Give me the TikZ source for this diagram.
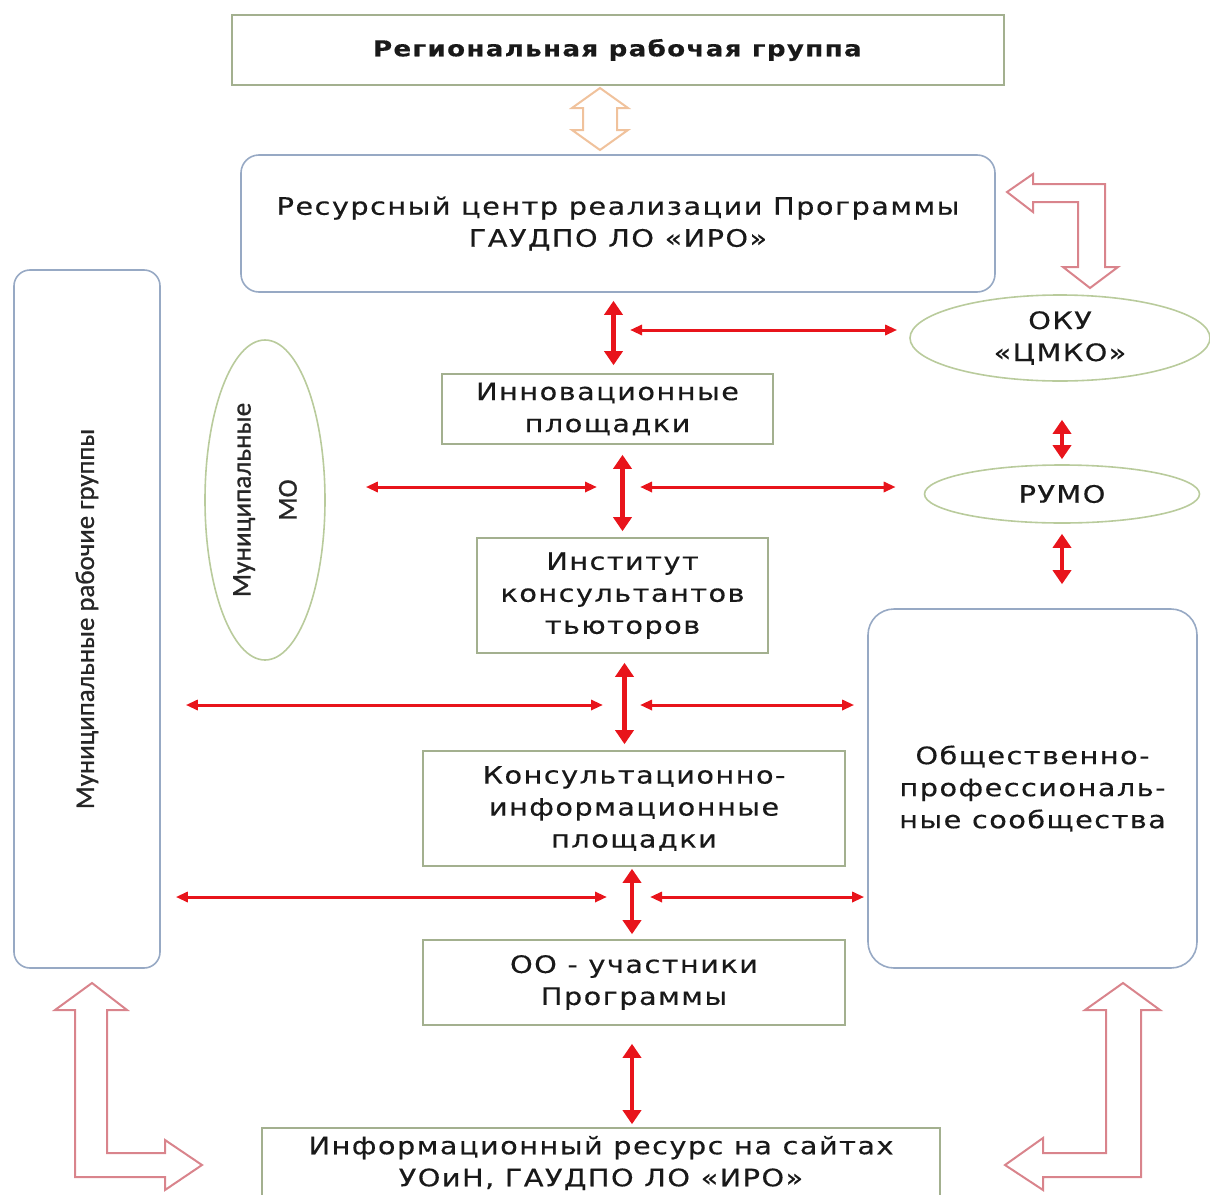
\documentclass[tikz,border=0pt]{standalone}
\usepackage{fontspec}
\setmainfont{DejaVu Sans}[FakeStretch=1.2,LetterSpace=6,FakeBold=0.4]
\newfontfamily\narrowfont{Carlito}[FakeBold=0.8]
\usetikzlibrary{arrows.meta,shapes.geometric}

\definecolor{greenline}{HTML}{A3B08F}
\definecolor{blueline}{HTML}{97A9C4}
\definecolor{ovalline}{HTML}{B9CB9C}
\definecolor{linkred}{HTML}{E8141B}
\definecolor{hollowred}{HTML}{D9848C}
\definecolor{hollowpeach}{HTML}{F0C29C}

\begin{document}
\begin{tikzpicture}[
        x=0.5pt, y=-0.5pt,
        txt/.style={font=\fontsize{12}{16}\selectfont, text=black!90, align=center, inner sep=0pt},
        box/.style={txt, draw=greenline, line width=0.8pt, rectangle},
        rbox/.style={txt, draw=blueline, line width=0.8pt, rectangle, rounded corners=9pt},
        oval/.style={txt, draw=ovalline, line width=0.8pt, ellipse, inner sep=0pt},
        vred/.style={draw=linkred, line width=2.2pt, {Triangle[length=7pt,width=9pt]}-{Triangle[length=7pt,width=9pt]}},
        hred/.style={draw=linkred, line width=1.5pt, {Triangle[length=6pt,width=5pt]}-{Triangle[length=6pt,width=5pt]}},
        hollow/.style={draw=hollowred, line width=1pt, line join=miter}
      ]
      \useasboundingbox (0,0) rectangle (1210,1194);

      % boxes
      \node[box, minimum width=386pt, minimum height=35pt, font=\fontsize{10.9}{14}\selectfont] (top) at (618,50)
        {\textbf{Региональная рабочая группа}};
      \node[rbox, minimum width=377pt, minimum height=68.5pt] (res) at (618,223.5)
        {Ресурсный центр реализации Программы\\ГАУДПО ЛО «ИРО»};
      \node[box, minimum width=165.5pt, minimum height=35pt] (inn) at (607.5,409)
        {Инновационные\\площадки};
      \node[box, minimum width=145.5pt, minimum height=57.5pt] (inst) at (622.5,595.5)
        {Институт\\консультантов\\тьюторов};
      \node[box, minimum width=211pt, minimum height=57.5pt] (kons) at (634,808.5)
        {Консультационно-\\информационные\\площадки};
      \node[box, minimum width=211pt, minimum height=42.5pt] (oo) at (634,982.5)
        {ОО - участники\\Программы};
      \node[box, minimum width=339pt, minimum height=35pt] (info) at (601,1163)
        {Информационный ресурс на сайтах\\УОиН, ГАУДПО ЛО «ИРО»};
      \node[rbox, rounded corners=8pt, minimum width=73pt, minimum height=349pt,
        label={[rotate=90, text=black!85, font=\narrowfont\fontsize{13.4}{16}\selectfont]center:Муниципальные рабочие группы}] (mrg) at (87,619) {};
      \node[rbox, rounded corners=13pt, minimum width=164.5pt, minimum height=179.5pt] (ops) at (1032.5,788.5)
        {Общественно-\\профессиональ-\\ные сообщества};

      % ovals
      \node[oval, minimum width=60pt, minimum height=160pt,
        label={[rotate=90, align=center, text=black!85, font=\narrowfont\fontsize{13.6}{23}\selectfont]center:Муниципальные\\МО}] (mo) at (265,500) {};
      \node[oval, minimum width=150pt, minimum height=43pt] (oku) at (1060,338)
        {ОКУ\\«ЦМКО»};
      \node[oval, minimum width=137.5pt, minimum height=29pt] (rumo) at (1062,494)
        {РУМО};

      % free ends of the links
      \coordinate (h1) at (630,330);
      \coordinate (h2l) at (597,487);
      \coordinate (h2r) at (640,487);
      \coordinate (h3l) at (603,705);
      \coordinate (h3r) at (640,705);
      \coordinate (h4l) at (607,897);
      \coordinate (h4r) at (650,897);

      % vertical links
      \draw[vred, shorten <=4pt, shorten >=4pt] ([xshift=3pt]inn.north) -- ([xshift=3pt]inn.north |- res.south);
      \draw[vred, shorten <=3pt, shorten >=5pt] (inst.north) -- (inst.north |- inn.south);
      \draw[vred, shorten <=4.5pt, shorten >=3pt] ([xshift=1pt]inst.south) -- ([xshift=1pt]inst.south |- kons.north);
      \draw[vred, shorten <=1pt, shorten >=2.5pt] ([xshift=-1pt]kons.south) -- ([xshift=-1pt]oo.north);
      \draw[vred, shorten <=9pt, shorten >=1.5pt] ([xshift=-1pt]oo.south) -- ([xshift=-1pt]oo.south |- info.north);
      \draw[vred, shorten <=19pt, shorten >=2.5pt] ([xshift=1pt]oku.south) -- ([xshift=1pt]oku.south |- rumo.north);
      \draw[vred, shorten <=5pt, shorten >=12pt] (rumo.south) -- (rumo.south |- ops.north);

      % horizontal links
      \draw[hred, shorten >=6pt] (h1) -- (h1 -| oku.west);
      \draw[hred, shorten <=20pt] (mo.east |- h2l) -- (h2l);
      \draw[hred, shorten >=14pt] (h2r) -- (h2r -| rumo.west);
      \draw[hred, shorten <=12.5pt] (mrg.east |- h3l) -- (h3l);
      \draw[hred, shorten >=6.5pt] (h3r) -- (h3r -| ops.west);
      \draw[hred, shorten <=7.5pt] (mrg.east |- h4l) -- (h4l);
      \draw[hred, shorten >=1.5pt] (h4r) -- (h4r -| ops.west);

      % hollow arrows
      \draw[hollow, draw=hollowpeach] (600,88) -- (628,108) -- (617,108) -- (617,130) -- (628,130)
        -- (600,150) -- (572,130) -- (583,130) -- (583,108) -- (572,108) -- cycle;
      \draw[hollow] (1007,192) -- (1033,174) -- (1033,184) -- (1105,184) -- (1105,267) -- (1118,267)
        -- (1090,288) -- (1063,267) -- (1078,267) -- (1078,202) -- (1033,202) -- (1033,212) -- cycle;
      \draw[hollow] (92,983) -- (127,1010) -- (107,1010) -- (107,1153) -- (165,1153) -- (165,1140)
        -- (202,1165) -- (165,1190) -- (165,1177) -- (75,1177) -- (75,1010) -- (55,1010) -- cycle;
      \draw[hollow] (1123,983) -- (1160,1010) -- (1141,1010) -- (1141,1177) -- (1043,1177) -- (1043,1190)
        -- (1005,1165) -- (1043,1138) -- (1043,1153) -- (1106,1153) -- (1106,1010) -- (1085,1010) -- cycle;
\end{tikzpicture}
\end{document}
